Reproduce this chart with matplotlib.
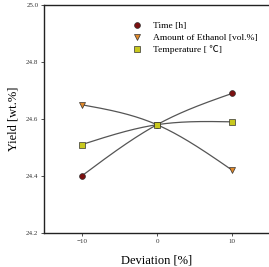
import matplotlib
matplotlib.use("Agg")
import matplotlib.pyplot as plt
import numpy as np

plt.rcParams["font.family"] = ["Liberation Serif", "Noto Sans CJK SC", "DejaVu Serif"]

deviation = [-10, 0, 10]
time_yield = [24.40, 24.58, 24.69]
ethanol_yield = [24.65, 24.58, 24.42]
temp_yield = [24.51, 24.58, 24.59]

series = [
    ("Time [h]", time_yield, "o", "#7b1010", 4.2),
    ("Amount of Ethanol [vol.%]", ethanol_yield, "v", "#e0882a", 4.2),
    ("Temperature [ \u2103]", temp_yield, "s", "#c8c81e", 3.8),
]


def natural_spline(x, y, xs):
    # natural cubic spline through 3 equally spaced points
    h = x[1] - x[0]
    m1 = 1.5 * (y[0] - 2 * y[1] + y[2]) / h ** 2
    out = []
    for t in xs:
        if t <= x[1]:
            a, b, ya, yb, ma, mb = x[0], x[1], y[0], y[1], 0.0, m1
        else:
            a, b, ya, yb, ma, mb = x[1], x[2], y[1], y[2], m1, 0.0
        u, v = b - t, t - a
        out.append(ma * u ** 3 / (6 * h) + mb * v ** 3 / (6 * h)
                   + (ya / h - ma * h / 6) * u + (yb / h - mb * h / 6) * v)
    return np.array(out)


fig = plt.figure(figsize=(2.69, 2.67), dpi=100)
ax = fig.add_axes([44 / 269, 34 / 267, 226 / 269, 228 / 267])

xs = np.linspace(-10, 10, 200)
for label, ys, marker, color, ms in series:
    ax.plot(xs, natural_spline(deviation, ys, xs), color="#555555", lw=0.9, zorder=2)
    ax.plot(deviation, ys, marker, color=color, ms=ms, mec="#333333", mew=0.5,
            ls="none", label=label, zorder=3)

ax.set_xlim(-15, 15)
ax.set_ylim(24.2, 25.0)
ax.set_xticks([-10, 0, 10])
ax.set_yticks([24.2, 24.4, 24.6, 24.8, 25.0])
ax.set_yticklabels(["24.2", "24.4", "24.6", "24.8", "25.0"])
ax.tick_params(direction="out", length=2, width=0.6, labelsize=5, pad=2, colors="#333333")
for s in ax.spines.values():
    s.set_linewidth(1.0)
    s.set_color("#222222")

ax.set_xlabel("Deviation [%]", fontsize=9, labelpad=8)
ax.set_ylabel("Yield [wt.%]", fontsize=9, labelpad=5)

ax.legend(loc="upper left", bbox_to_anchor=(0.375, 0.945), frameon=False, fontsize=6.8,
          handletextpad=1.2, labelspacing=0.35, borderaxespad=0, handlelength=1.0)

fig.savefig("out.png", dpi=100)
